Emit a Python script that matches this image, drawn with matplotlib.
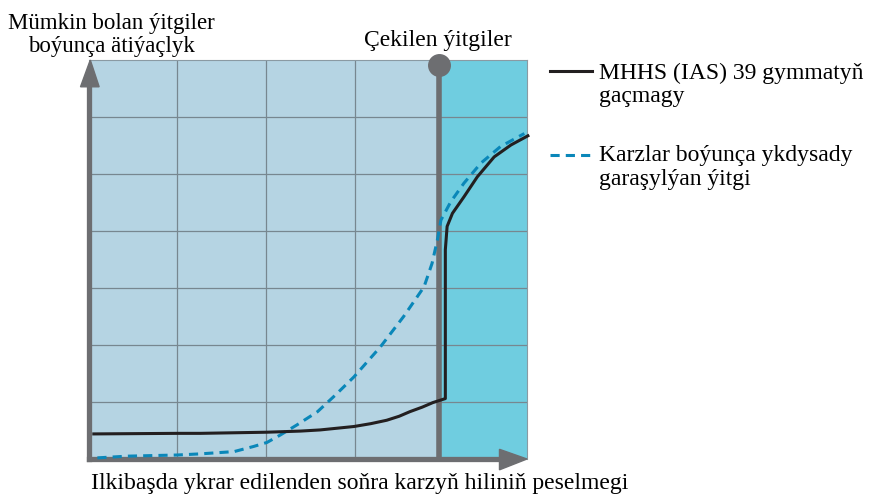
import numpy as np
import matplotlib.pyplot as plt
from matplotlib.patches import Polygon
from matplotlib.lines import Line2D

# Datos (x en columnas de la cuadrícula, y en filas)
x_mhhs = [0.06, 1.0, 1.26, 2.01, 2.39, 2.61, 2.99, 3.18, 3.36, 3.50, 3.62, 3.76, 3.88, 4.02,
          4.02, 4.04, 4.10, 4.23, 4.38, 4.57, 4.76, 4.95]
y_mhhs = [0.44, 0.45, 0.45, 0.47, 0.49, 0.51, 0.57, 0.62, 0.68, 0.75, 0.83, 0.91, 0.99, 1.06,
          3.67, 4.08, 4.31, 4.60, 4.95, 5.30, 5.51, 5.67]

x_karz = [0.10, 0.44, 1.0, 1.26, 1.64, 1.86, 2.01, 2.16, 2.35, 2.58, 2.78, 2.99, 3.29, 3.55,
          3.78, 3.87, 3.93, 3.97, 4.08, 4.23, 4.42, 4.64, 4.91]
y_karz = [0.02, 0.05, 0.07, 0.09, 0.13, 0.22, 0.29, 0.42, 0.60, 0.83, 1.12, 1.44, 1.97, 2.50,
          3.02, 3.43, 3.84, 4.19, 4.51, 4.84, 5.19, 5.48, 5.71]

x_cekilen = 3.95
x_max, y_max = 4.94, 7

etiqueta_y = ['Mümkin bolan ýitgiler', 'boýunça ätiýaçlyk']
etiqueta_x = 'Ilkibaşda ykrar edilenden soňra karzyň hiliniň peselmegi'
etiqueta_cek = 'Çekilen ýitgiler'
ley_mhhs = ['MHHS (IAS) 39 gymmatyň', 'gaçmagy']
ley_karz = ['Karzlar boýunça ykdysady', 'garaşylýan ýitgi']

gris = '#6d6e71'
azul = '#0a87b9'
negro = '#231f20'
plt.rcParams['font.family'] = ['Liberation Serif', 'DejaVu Serif']
fs = 17

fig = plt.figure(figsize=(8.69, 4.95), dpi=100)
ax = fig.add_axes([88.5/869, 36/495, (527-88.5)/869, 399/495])
ax.set_xlim(0, x_max)
ax.set_ylim(0, y_max)

# fondos
ax.axvspan(0, x_cekilen, color='#b5d4e3', zorder=0)
ax.axvspan(x_cekilen, x_max, color='#6fcde0', zorder=0)

# cuadrícula
for xv in [1, 2, 3]:
    ax.axvline(xv, color='#778790', lw=0.9, zorder=1)
for yv in range(1, 7):
    ax.axhline(yv, color='#778790', lw=0.9, zorder=1)

# curvas
ax.plot(x_karz, y_karz, color=azul, lw=2.2, ls=(0, (3, 2)), zorder=3, clip_on=False,
        solid_joinstyle='round', dash_joinstyle='round')
ax.plot(x_mhhs, y_mhhs, color=negro, lw=2.2, zorder=4, clip_on=False,
        solid_joinstyle='round')

# línea de pérdidas incurridas
ax.plot([x_cekilen, x_cekilen], [0, 6.9], color=gris, lw=4, zorder=2, clip_on=False)
ax.plot([x_cekilen], [6.91], 'o', color=gris, ms=15.5, zorder=5, clip_on=False)

# ejes
for s in ['top', 'right']:
    ax.spines[s].set_color('#8a9aa3')
    ax.spines[s].set_linewidth(0.8)
for s in ['left', 'bottom']:
    ax.spines[s].set_color(gris)
    ax.spines[s].set_linewidth(3.8)
ax.spines['left'].set_bounds(0, 6.6)
ax.spines['bottom'].set_bounds(0, 4.7)
ax.set_xticks([])
ax.set_yticks([])

ax.add_patch(Polygon([[-0.09, 6.53], [0.02, 7.0], [0.12, 6.53]], closed=True,
                     color=gris, clip_on=False, zorder=6))
ax.add_patch(Polygon([[4.63, 0.17], [x_max, 0.0], [4.63, -0.19]], closed=True,
                     color=gris, clip_on=False, zorder=6))

# textos
def tx(x, y, s, ha='left', size=fs):
    fig.text(x/869, 1 - y/495, s, ha=ha, va='baseline', fontsize=size)

tx(111, 29.5, etiqueta_y[0], 'center', 16.5)
tx(111, 52, etiqueta_y[1], 'center', 16.5)
tx(360, 489, etiqueta_x, 'center')
tx(438, 46, etiqueta_cek, 'center')

# leyenda
fig.add_artist(Line2D([550/869, 592/869], [1 - 71.5/495, 1 - 71.5/495], color=negro, lw=2.2))
tx(599, 78.5, ley_mhhs[0])
tx(599, 102, ley_mhhs[1])
fig.add_artist(Line2D([550/869, 592/869], [1 - 154.5/495, 1 - 154.5/495], color=azul, lw=2.2,
                      ls=(0, (3, 2))))
tx(599, 161.5, ley_karz[0])
tx(599, 185, ley_karz[1])

plt.savefig('out.png', dpi=100)
